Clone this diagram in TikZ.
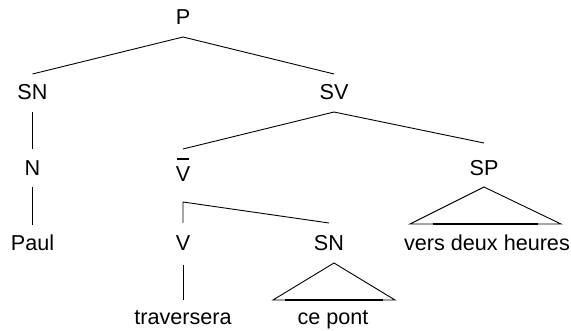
\documentclass[tikz,border=0pt]{standalone}
\usepackage{fontspec}
\setmainfont{Liberation Sans}
\usetikzlibrary{calc}
\begin{document}
\begin{tikzpicture}[x=1pt,y=-1pt,
  lab/.style={anchor=base,inner sep=0pt,outer sep=0pt,text height=15.5pt,text depth=0pt,font=\fontsize{21.6}{26}\selectfont},
  edge/.style={line width=0.9pt,black},
  thickbase/.style={line width=1.4pt,black}]
\useasboundingbox (0,0) rectangle (571,331);
% nodes
\node[lab] (P)   at (183,25)  {P};
\node[lab] (SN)  at (32.5,100) {SN};
\node[lab] (SV)  at (334,100) {SV};
\node[lab] (N)   at (32.5,176) {N};
\node[lab] (Vb)  at (183,182) {V};
\node[lab] (SP)  at (484,176) {SP};
\node[lab] (Paul) at (32.5,251) {Paul};
\node[lab] (V)   at (183,251) {V};
\node[lab] (SNb) at (329,251) {SN};
\node[lab] (vdh) at (487,251) {vers deux heures};
\node[lab] (trav) at (183,325) {traversera};
\node[lab] (cp)  at (333,325) {ce pont};
% bar over V
\draw[line width=1.3pt] ([xshift=1pt,yshift=7.5pt]Vb.north west) -- ([xshift=-1pt,yshift=7.5pt]Vb.north east);
% connectors
\draw[edge] ([yshift=10.5pt]SN.north) -- ([yshift=-12pt]P.south) -- ([yshift=10.5pt]SV.north);
\draw[edge] ([yshift=-12pt]SN.south) -- ([yshift=11.5pt]N.north);
\draw[edge] ([yshift=-11pt]N.south) -- ([yshift=10.5pt]Paul.north);
\draw[edge] ([yshift=17.5pt]Vb.north) -- ([yshift=-12pt]SV.south) -- ([yshift=17.5pt]SP.north);
\coordinate (corner) at ([yshift=-20pt]Vb.south);
\draw[edge] ([yshift=12.5pt]V.north) -- (corner) -- ([yshift=12.5pt]SNb.north);
\draw[edge] ([yshift=-14pt]V.south) -- ([yshift=9.5pt]trav.north);
% triangle over "vers deux heures"
\coordinate (spA) at ([yshift=-11pt]SP.south);
\coordinate (spL) at ([xshift=-77pt,yshift=11.5pt]vdh.north);
\coordinate (spR) at ([xshift=74pt,yshift=11.5pt]vdh.north);
\draw[edge] (spL) -- (spA) -- (spR) -- cycle;
\draw[thickbase] ($(spL)!0.15!(spR)$) -- ($(spL)!0.85!(spR)$);
% triangle over "ce pont"
\coordinate (snA) at ([xshift=5pt,yshift=-12pt]SNb.south);
\coordinate (snL) at ([xshift=-60pt,yshift=9.5pt]cp.north);
\coordinate (snR) at ([xshift=62pt,yshift=9.5pt]cp.north);
\draw[edge] (snL) -- (snA) -- (snR) -- cycle;
\draw[thickbase] ($(snL)!0.1!(snR)$) -- ($(snL)!0.9!(snR)$);
\end{tikzpicture}
\end{document}
